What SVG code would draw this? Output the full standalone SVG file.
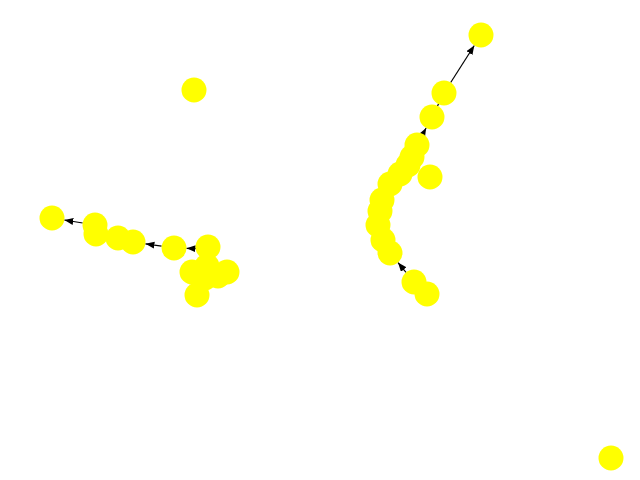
<svg xmlns="http://www.w3.org/2000/svg" width="640" height="480" viewBox="0 0 640 480">
<style>
.n{fill:#ffff00;stroke:none}
.e{stroke:#000;stroke-width:1.2;fill:none}
</style>
<defs>
<marker id="ah" markerUnits="userSpaceOnUse" markerWidth="10" markerHeight="8" refX="9" refY="3.5" orient="auto">
<path d="M0,0 L9,3.5 L0,7 Z" fill="#000"/>
</marker>
</defs>
<rect width="640" height="480" fill="#fff"/>
<g id="edges">
<line class="e" x1="450.7" y1="82.5" x2="474.3" y2="45.5" marker-end="url(#ah)"/>
<line class="e" x1="432" y1="117" x2="444" y2="93"/>
<line class="e" x1="417" y1="145" x2="426.1" y2="128" marker-end="url(#ah)"/>
<line class="e" x1="406" y1="272.4" x2="398" y2="262.6" marker-end="url(#ah)"/>
<line class="e" x1="82.7" y1="223" x2="64.3" y2="220" marker-end="url(#ah)"/>
<line class="e" x1="161.6" y1="246.2" x2="145.4" y2="243.8" marker-end="url(#ah)"/>
<line class="e" x1="205" y1="249" x2="186.5" y2="248.3" marker-end="url(#ah)"/>
</g>
<g id="n1"><circle class="n" cx="194" cy="90" r="12.5"/></g>
<g id="n2"><circle class="n" cx="611" cy="458" r="12.5"/></g>
<g id="n3"><circle class="n" cx="481" cy="35" r="12.5"/></g>
<g id="n4"><circle class="n" cx="444" cy="93" r="12.5"/></g>
<g id="n5"><circle class="n" cx="432" cy="117" r="12.5"/></g>
<g id="n6"><circle class="n" cx="417" cy="145" r="12.5"/></g>
<g id="n7"><circle class="n" cx="412" cy="157" r="12.5"/></g>
<g id="n8"><circle class="n" cx="408" cy="165" r="12.5"/></g>
<g id="n9"><circle class="n" cx="400" cy="174" r="12.5"/></g>
<g id="n10"><circle class="n" cx="390" cy="184" r="12.5"/></g>
<g id="n11"><circle class="n" cx="430" cy="177" r="12.5"/></g>
<g id="n12"><circle class="n" cx="382" cy="200" r="12.5"/></g>
<g id="n13"><circle class="n" cx="380" cy="211" r="12.5"/></g>
<g id="n14"><circle class="n" cx="378" cy="225" r="12.5"/></g>
<g id="n15"><circle class="n" cx="383" cy="240" r="12.5"/></g>
<g id="n16"><circle class="n" cx="390" cy="253" r="12.5"/></g>
<g id="n17"><circle class="n" cx="414" cy="282" r="12.5"/></g>
<g id="n18"><circle class="n" cx="427" cy="294" r="12.5"/></g>
<g id="n19"><circle class="n" cx="52" cy="218" r="12.5"/></g>
<g id="n20"><circle class="n" cx="95" cy="225" r="12.5"/></g>
<g id="n21"><circle class="n" cx="96" cy="234" r="12.5"/></g>
<g id="n22"><circle class="n" cx="118" cy="238" r="12.5"/></g>
<g id="n23"><circle class="n" cx="133" cy="242" r="12.5"/></g>
<g id="n24"><circle class="n" cx="174" cy="248" r="12.5"/></g>
<g id="n25"><circle class="n" cx="208" cy="247" r="12.5"/></g>
<g id="n26"><circle class="n" cx="192" cy="272" r="12.5"/></g>
<g id="n27"><circle class="n" cx="227" cy="272" r="12.5"/></g>
<g id="n28"><circle class="n" cx="197" cy="295" r="12.5"/></g>
<g id="n29"><circle class="n" cx="207" cy="266" r="12.5"/></g>
<g id="n30"><circle class="n" cx="218" cy="276" r="12.5"/></g>
<g id="n31"><circle class="n" cx="205" cy="278" r="12.5"/></g>
</svg>
